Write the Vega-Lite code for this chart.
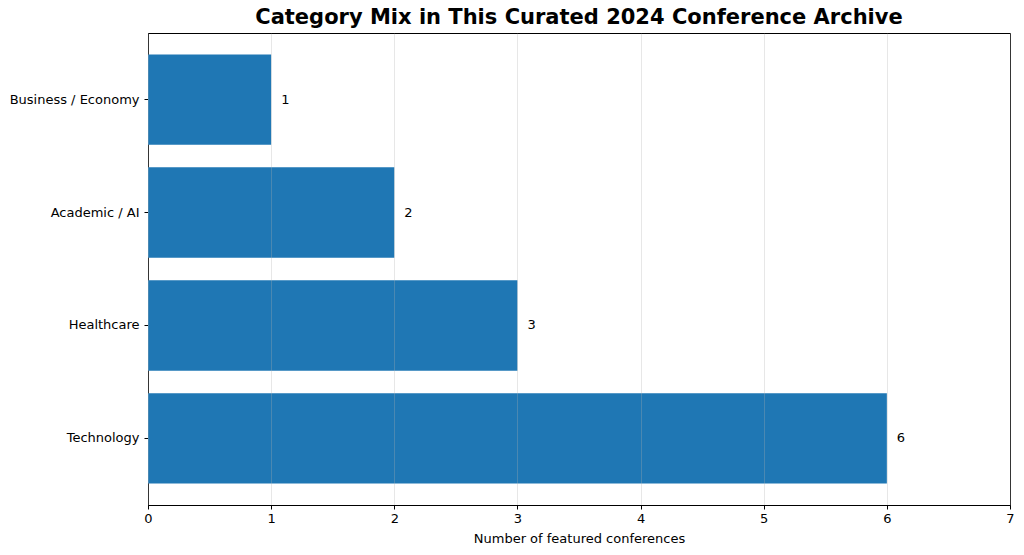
{
  "$schema": "https://vega.github.io/schema/vega-lite/v6.json",
  "autosize": {"type": "none"},
  "width": 862,
  "height": 472,
  "padding": {"left": 148, "top": 33, "right": 14, "bottom": 50},
  "background": "white",
  "config": {
    "font": "DejaVu Sans",
    "view": {"stroke": "black", "strokeWidth": 1}
  },
  "title": {
    "text": "Category Mix in This Curated 2024 Conference Archive",
    "fontSize": 21,
    "fontWeight": "bold",
    "font": "DejaVu Sans",
    "color": "black",
    "anchor": "middle",
    "frame": "group",
    "offset": 5
  },
  "data": {
    "values": [
      {"category": "Business / Economy", "count": 1},
      {"category": "Academic / AI", "count": 2},
      {"category": "Healthcare", "count": 3},
      {"category": "Technology", "count": 6}
    ]
  },
  "encoding": {
    "y": {
      "field": "category",
      "type": "nominal",
      "sort": ["Business / Economy", "Academic / AI", "Healthcare", "Technology"],
      "scale": {"paddingInner": 0.2, "paddingOuter": 0.19},
      "axis": {
        "title": null,
        "labelFontSize": 13,
        "labelColor": "black",
        "labelPadding": 5,
        "tickColor": "black",
        "tickSize": 4,
        "domainColor": "black",
        "grid": false
      }
    },
    "x": {
      "field": "count",
      "type": "quantitative",
      "scale": {"domain": [0, 7], "nice": false},
      "axis": {
        "title": "Number of featured conferences",
        "titleFontSize": 13,
        "titleFontWeight": "normal",
        "titleColor": "black",
        "titlePadding": 7,
        "values": [0, 1, 2, 3, 4, 5, 6, 7],
        "format": "d",
        "labelFlush": false,
        "labelFontSize": 13,
        "labelColor": "black",
        "labelPadding": 3,
        "tickColor": "black",
        "tickSize": 4,
        "domainColor": "black",
        "grid": true,
        "gridColor": "#b0b0b0",
        "gridOpacity": 0.3,
        "zindex": 1
      }
    }
  },
  "layer": [
    {"mark": {"type": "bar", "color": "#1f77b4"}},
    {
      "mark": {"type": "text", "align": "left", "baseline": "middle", "dx": 10, "fontSize": 13, "color": "black"},
      "encoding": {"text": {"field": "count", "type": "quantitative"}}
    }
  ]
}
